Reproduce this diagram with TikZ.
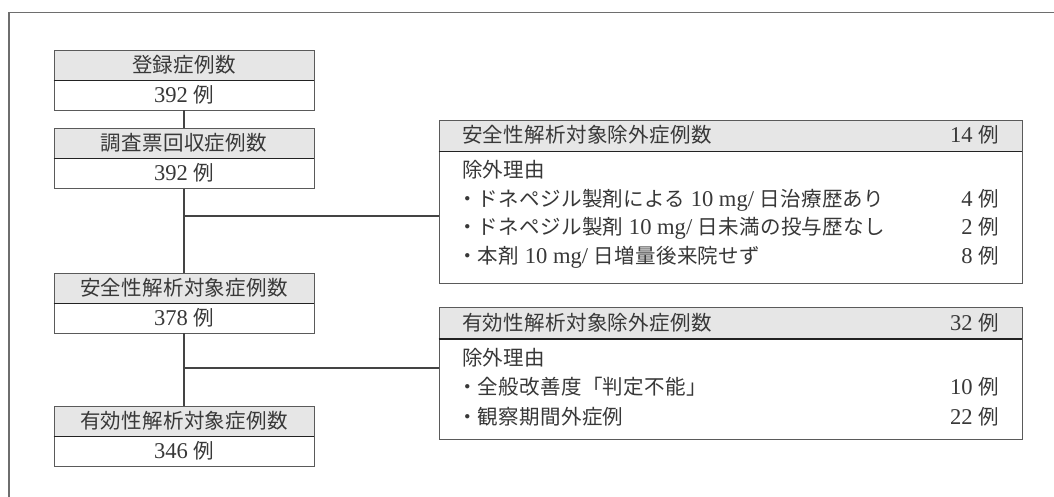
\documentclass[tikz,border=0pt]{standalone}
\usepackage{fontspec}
\setmainfont{Liberation Serif}[Scale=1.1]
\newfontfamily\cjk{Noto Sans CJK JP}[LetterSpace=1.5]
\definecolor{txt}{HTML}{383838}
\definecolor{bord}{HTML}{5A5A5A}
\definecolor{sepc}{HTML}{222222}
\definecolor{hdrfill}{HTML}{E6E6E6}
\definecolor{framec}{HTML}{6E6E6E}
\definecolor{conn}{HTML}{444444}
\begin{document}
\begin{tikzpicture}[x=1pt,y=-1pt,
  lbl/.style={inner sep=0pt, text height=15.5pt, text depth=1pt, font=\fontsize{20.5pt}{24pt}\selectfont, text=txt},
  lhdr/.style={lbl, draw=bord, fill=hdrfill, line width=0.9pt, minimum width=260pt, minimum height=30pt},
  lcnt/.style={lbl, draw=bord, fill=white, line width=0.9pt, minimum width=260pt, minimum height=30pt},
  rhdr/.style={draw=bord, fill=hdrfill, line width=0.9pt, inner sep=0pt, minimum width=583pt, minimum height=31pt},
  rbody/.style={draw=bord, fill=white, line width=0.9pt, inner sep=0pt, minimum width=583pt},
  sepline/.style={draw=sepc, line width=1.1pt},
  connector/.style={draw=conn, line width=1.4pt},
  frameline/.style={draw=framec, line width=1.4pt}
]
\useasboundingbox (0,0) rectangle (1054,497);
\fill[white] (0,0) rectangle (1054,497);
% outer frame (partial)
\draw[frameline] (9,497) -- (9,12.5) -- (1054,12.5);

% right boxes
\node[rbody, minimum height=132pt] (r1b) at (730.5,217) {};
\node[rhdr] (r1h) at (730.5,135.5) {};
\draw[sepline] (r1h.south west) -- (r1h.south east);
\node[rbody, minimum height=101pt] (r2b) at (730.5,388.5) {};
\node[rhdr] (r2h) at (730.5,323) {};
\draw[sepline] (r2h.south west) -- (r2h.south east);

% left boxes
\node[lhdr] (h1) at (184,65) {{\cjk 登録症例数}};
\node[lcnt] (c1) at (184,95) {392 {\cjk 例}};
\node[lhdr] (h2) at (184,143) {{\cjk 調査票回収症例数}};
\node[lcnt] (c2) at (184,173.5) {392 {\cjk 例}};
\node[lhdr] (h3) at (184,288) {{\cjk 安全性解析対象症例数}};
\node[lcnt] (c3) at (184,318) {378 {\cjk 例}};
\node[lhdr] (h4) at (184,421) {{\cjk 有効性解析対象症例数}};
\node[lcnt] (c4) at (184,451) {346 {\cjk 例}};
\draw[sepline] (h1.south west) -- (h1.south east);
\draw[sepline] (h2.south west) -- (h2.south east);
\draw[sepline] (h3.south west) -- (h3.south east);
\draw[sepline] (h4.south west) -- (h4.south east);

% connectors
\draw[connector] (c1.south) -- (h2.north);
\draw[connector] (c2.south) -- (h3.north);
\draw[connector] (c3.south) -- (h4.north);
\coordinate (j1) at (184,216);
\coordinate (j2) at (184,368);
\draw[connector] (j1) -- (j1 -| r1b.west);
\draw[connector] (j2) -- (j2 -| r2b.west);

% right box 1 texts
\node[lbl, anchor=west] (t1h) at (462,135.5) {{\cjk 安全性解析対象除外症例数}};
\node[lbl, anchor=east] (n1h) at (999,135.5) {14 {\cjk 例}};
\node[lbl, anchor=west] (t1r) at (462,170) {{\cjk 除外理由}};
\node[lbl, anchor=west] (t1a) at (457,199) {{\cjk ・ドネペジル製剤による} 10 mg/ {\cjk 日治療歴あり}};
\node[lbl, anchor=east] (n1a) at (999,199) {4 {\cjk 例}};
\node[lbl, anchor=west] (t1b) at (457,227.5) {{\cjk ・ドネペジル製剤} 10 mg/ {\cjk 日未満の投与歴なし}};
\node[lbl, anchor=east] (n1b) at (999,227.5) {2 {\cjk 例}};
\node[lbl, anchor=west] (t1c) at (457,256) {{\cjk ・本剤} 10 mg/ {\cjk 日増量後来院せず}};
\node[lbl, anchor=east] (n1c) at (999,256) {8 {\cjk 例}};

% right box 2 texts
\node[lbl, anchor=west] (t2h) at (462,323) {{\cjk 有効性解析対象除外症例数}};
\node[lbl, anchor=east] (n2h) at (999,323) {32 {\cjk 例}};
\node[lbl, anchor=west] (t2r) at (462,358) {{\cjk 除外理由}};
\node[lbl, anchor=west] (t2a) at (457,387) {{\cjk ・全般改善度「判定不能」}};
\node[lbl, anchor=east] (n2a) at (999,387) {10 {\cjk 例}};
\node[lbl, anchor=west] (t2b) at (457,417) {{\cjk ・観察期間外症例}};
\node[lbl, anchor=east] (n2b) at (999,417) {22 {\cjk 例}};
\end{tikzpicture}
\end{document}
